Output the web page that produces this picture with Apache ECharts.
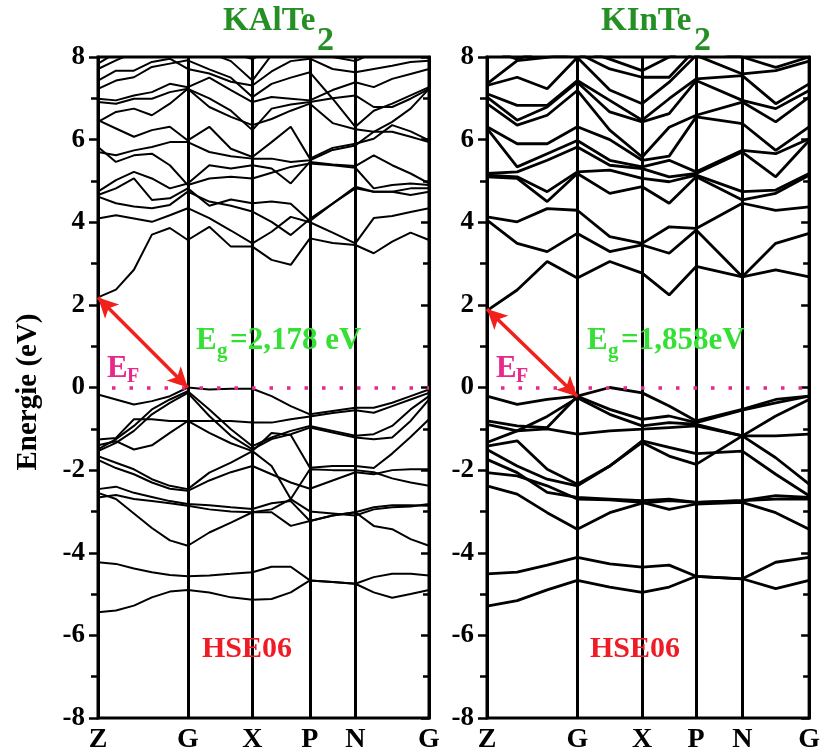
<!DOCTYPE html>
<html><head><meta charset="utf-8">
<script src="https://cdn.jsdelivr.net/npm/echarts@6/dist/echarts.min.js"></script>
<style>html,body{margin:0;padding:0;background:#fff}#c{width:823px;height:754px}</style>
</head><body><div id="c"></div>
<script>
// ---- k-path (distance along path, arbitrary units) ----
const kLabels = ['Z', 'G', 'X', 'P', 'N', 'G'];
const kLeft = [0, 17.8, 35.6, 53.4, 71.2, 89, 110.3, 131.7, 153, 172, 191, 210, 232.5, 255, 273.25, 291.5, 309.75, 328];
const kLeftSym = [0, 89, 153, 210, 255, 328];
const kRight = [0, 30.7, 61.3, 92, 125, 158, 185.5, 213, 260, 294, 328];
const kRightSym = [0, 92, 158, 213, 260, 328];

// ---- KAlTe2 bands (eV) ----
const alC1 = [2.18, 2.37, 2.85, 3.70, 3.86, 3.57, 3.89, 3.41, 3.41, 3.09, 2.97, 3.61, 3.50, 3.45, 3.25, 3.53, 3.75, 3.57];
const alC2 = [4.09, 4.17, 4.09, 4.01, 4.17, 4.34, 4.10, 3.80, 3.49, 3.77, 4.13, 4.00, 3.75, 3.49, 4.10, 4.15, 4.25, 4.34];
const alC3 = [4.62, 4.46, 4.38, 4.34, 4.42, 4.74, 4.50, 4.40, 4.26, 4.01, 3.69, 4.08, 4.45, 4.82, 4.74, 4.74, 4.66, 4.74];
const alC4 = [4.66, 4.82, 5.06, 4.54, 4.58, 4.82, 4.40, 4.55, 4.46, 4.50, 4.45, 4.03, 4.45, 4.86, 4.74, 4.74, 4.82, 4.82];
const alC5 = [4.74, 5.02, 5.22, 5.06, 4.82, 4.94, 5.38, 5.30, 5.38, 5.30, 4.94, 5.46, 5.40, 5.36, 5.62, 5.38, 5.18, 4.94];
const alC6 = [5.70, 5.62, 5.74, 5.82, 5.94, 5.94, 5.70, 5.60, 5.54, 5.54, 5.46, 5.50, 5.75, 5.86, 6.19, 6.43, 6.75, 7.23];
const alC7 = [5.82, 5.46, 5.62, 5.66, 5.38, 4.90, 5.06, 5.10, 5.06, 5.20, 5.34, 5.42, 5.38, 5.32, 4.82, 4.90, 4.94, 4.90];
const alC8 = [6.47, 6.27, 6.07, 6.23, 6.31, 5.98, 6.31, 5.78, 5.58, 5.94, 6.31, 5.54, 5.80, 5.90, 6.02, 6.35, 6.20, 5.98];
const alC9 = [6.43, 6.67, 6.75, 6.59, 6.87, 7.23, 6.79, 6.55, 6.35, 6.50, 6.70, 6.87, 6.40, 6.25, 6.19, 6.19, 6.07, 5.94];
const alC10 = [6.91, 6.87, 6.99, 6.99, 7.15, 7.23, 7.00, 6.70, 6.23, 6.75, 6.85, 6.91, 7.00, 7.07, 6.79, 6.79, 6.99, 7.23];
const alC11 = [6.99, 6.95, 7.07, 7.15, 7.35, 7.27, 7.50, 7.20, 6.91, 7.03, 6.99, 6.95, 7.20, 7.39, 7.27, 7.47, 7.59, 7.71];
const alC12 = [7.23, 7.43, 7.51, 7.76, 7.84, 7.92, 7.70, 7.50, 7.03, 7.35, 7.50, 7.63, 6.99, 6.31, 6.70, 6.87, 7.07, 7.27];
const alC13 = [7.43, 7.67, 7.67, 7.88, 7.96, 7.71, 7.60, 7.40, 7.31, 7.65, 7.90, 7.96, 7.71, 7.63, 7.71, 7.79, 7.88, 7.91];
const alC14 = [7.71, 7.92, 8.10, 8.30, 8.30, 8.20, 8.10, 7.90, 7.43, 8.05, 8.20, 8.30, 8.00, 7.90, 8.10, 8.20, 8.20, 8.20];
const alC15 = [7.84, 8.10, 8.30, 8.40, 8.40, 8.30, 8.20, 8.10, 7.95, 8.20, 8.30, 8.40, 8.30, 8.20, 8.30, 8.40, 8.30, 8.30];
const alV1 = [-0.17, -0.29, -0.41, -0.33, -0.21, 0.00, -0.05, -0.03, -0.03, -0.21, -0.45, -0.65, -0.57, -0.49, -0.49, -0.37, -0.21, -0.05];
const alV2 = [-1.50, -1.25, -0.93, -0.53, -0.29, -0.09, -0.53, -1.01, -1.42, -1.21, -1.05, -0.93, -1.05, -1.17, -1.13, -0.93, -0.53, -0.21];
const alV3 = [-1.54, -1.34, -1.05, -0.65, -0.37, -0.13, -0.69, -1.17, -1.50, -1.25, -1.13, -0.97, -1.09, -1.21, -1.25, -1.21, -0.81, -0.29];
const alV4 = [-1.26, -1.22, -0.77, -0.77, -0.81, -0.81, -0.81, -0.81, -0.85, -0.85, -0.77, -0.70, -0.62, -0.55, -0.61, -0.45, -0.29, -0.13];
const alV5 = [-1.40, -1.30, -1.50, -1.40, -1.10, -0.81, -1.10, -1.35, -1.54, -1.10, -1.15, -1.94, -1.90, -1.90, -1.95, -1.60, -1.20, -0.77];
const alV6 = [-1.66, -1.82, -1.98, -2.22, -2.38, -2.46, -2.06, -1.82, -1.54, -1.90, -2.70, -1.98, -2.00, -2.00, -2.05, -2.20, -2.30, -2.38];
const alV7 = [-1.75, -1.95, -2.10, -2.30, -2.45, -2.50, -2.25, -2.05, -1.90, -2.10, -2.30, -2.45, -2.25, -2.05, -2.10, -2.00, -1.98, -1.98];
const alV8 = [-2.46, -2.40, -2.55, -2.65, -2.75, -2.82, -2.85, -2.90, -2.94, -2.80, -2.75, -3.23, -3.10, -3.02, -2.90, -2.85, -2.85, -2.86];
const alV9 = [-2.66, -2.60, -2.70, -2.75, -2.80, -2.86, -2.95, -3.00, -3.02, -3.02, -3.35, -3.23, -3.10, -3.02, -3.35, -3.43, -3.67, -3.83];
const alV10 = [-2.55, -2.70, -3.05, -3.40, -3.70, -3.83, -3.51, -3.27, -3.02, -2.95, -2.70, -3.00, -3.05, -3.10, -2.95, -2.90, -2.88, -2.82];
const alD1 = [-4.23, -4.27, -4.38, -4.47, -4.54, -4.57, -4.55, -4.51, -4.47, -4.34, -4.34, -4.67, -4.71, -4.75, -4.59, -4.51, -4.51, -4.55];
const alD2 = [-5.44, -5.40, -5.28, -5.08, -4.94, -4.90, -4.96, -5.08, -5.14, -5.12, -4.96, -4.67, -4.71, -4.75, -4.96, -5.09, -5.00, -4.90];

// ---- KInTe2 bands (eV) ----
const inC1 = [1.86, 2.36, 3.05, 2.65, 3.05, 2.77, 2.24, 2.93, 2.68, 2.85, 2.68];
const inC2 = [4.05, 3.49, 3.29, 3.73, 3.29, 3.45, 3.25, 3.81, 2.68, 3.49, 3.73];
const inC3 = [4.13, 4.01, 4.33, 4.29, 3.65, 3.49, 3.89, 3.85, 4.46, 4.29, 4.37];
const inC4 = [5.10, 5.06, 4.50, 5.18, 4.70, 4.86, 4.46, 5.10, 4.54, 4.70, 5.14];
const inC5 = [5.14, 5.10, 4.74, 5.22, 5.26, 5.06, 4.98, 5.14, 4.74, 4.78, 5.18];
const inC6 = [5.18, 5.22, 5.50, 5.82, 5.38, 5.30, 5.10, 5.18, 5.70, 5.10, 5.98];
const inC7 = [6.27, 5.34, 5.66, 5.98, 5.50, 5.34, 5.50, 5.22, 5.74, 5.66, 6.02];
const inC8 = [6.31, 5.90, 5.90, 6.31, 6.00, 5.50, 5.60, 6.55, 6.39, 5.74, 6.31];
const inC9 = [6.87, 6.35, 6.59, 7.19, 6.23, 5.58, 6.30, 6.59, 6.91, 6.43, 7.03];
const inC10 = [7.03, 6.47, 6.79, 7.39, 6.67, 6.43, 6.63, 7.43, 6.95, 6.75, 7.19];
const inC11 = [7.11, 6.83, 6.83, 7.43, 6.95, 6.47, 6.99, 7.47, 7.55, 6.87, 7.35];
const inC12 = [7.31, 7.51, 7.23, 7.99, 7.20, 6.87, 7.39, 8.04, 7.59, 7.67, 7.90];
const inC13 = [7.35, 7.91, 7.99, 8.10, 7.71, 7.51, 7.51, 8.20, 8.00, 7.75, 8.00];
const inC14 = [8.20, 7.95, 8.20, 8.20, 7.95, 7.67, 8.00, 8.30, 8.20, 8.10, 8.20];
const inV1 = [-0.21, -0.41, -0.29, -0.21, 0.00, -0.13, -0.45, -0.81, -0.53, -0.29, -0.21];
const inV2 = [-0.81, -0.93, -0.97, -0.21, -0.53, -0.77, -0.69, -0.85, -0.55, -0.37, -0.21];
const inV3 = [-0.89, -1.05, -0.70, -0.25, -0.65, -0.93, -0.85, -0.89, -1.17, -0.69, -0.29];
const inV4 = [-1.33, -1.05, -1.00, -1.13, -1.05, -1.01, -0.97, -0.93, -1.17, -1.17, -1.13];
const inV5 = [-1.42, -1.29, -1.98, -2.34, -1.90, -1.33, -1.66, -1.86, -1.17, -1.70, -2.34];
const inV6 = [-1.50, -1.90, -2.22, -2.38, -1.90, -1.29, -1.45, -1.60, -1.54, -2.10, -2.62];
const inV7 = [-1.74, -2.06, -2.54, -2.66, -2.70, -2.74, -2.70, -2.78, -2.74, -2.62, -2.66];
const inV8 = [-2.06, -2.14, -2.38, -2.70, -2.72, -2.78, -2.95, -2.82, -2.78, -3.03, -3.43];
const inV9 = [-2.38, -2.58, -3.03, -3.43, -3.03, -2.80, -2.74, -2.78, -2.74, -2.70, -2.70];
const inD1 = [-4.51, -4.47, -4.30, -4.11, -4.27, -4.35, -4.30, -4.57, -4.63, -4.23, -4.11];
const inD2 = [-5.29, -5.16, -4.90, -4.67, -4.83, -4.96, -4.83, -4.57, -4.63, -4.87, -4.67];

// ---- gap arrows: [k, E] start (CBM at Z) and end (VBM at G) ----
const gapLeft = [[0, 2.178], [89, 0]];
const gapRight = [[0, 1.90], [92, -0.22]];
const fermiLevel = 0;

const bandsLeft = [alC1, alC2, alC3, alC4, alC5, alC6, alC7, alC8, alC9, alC10, alC11, alC12, alC13, alC14, alC15,
  alV1, alV2, alV3, alV4, alV5, alV6, alV7, alV8, alV9, alV10, alD1, alD2];
const bandsRight = [inC1, inC2, inC3, inC4, inC5, inC6, inC7, inC8, inC9, inC10, inC11, inC12, inC13, inC14,
  inV1, inV2, inV3, inV4, inV5, inV6, inV7, inV8, inV9, inD1, inD2];

const SERIF = '"Liberation Serif", "Times New Roman", serif';
const chart = echarts.init(document.getElementById('c'), null, {renderer: 'canvas'});

function xAxisFor(grid, sym) {
  return {
    type: 'value', gridIndex: grid, min: 0, max: 328,
    axisLine: {show: false}, axisTick: {show: false}, splitLine: {show: false},
    axisLabel: {
      customValues: sym, margin: 8,
      formatter: v => kLabels[sym.indexOf(v)],
      fontFamily: SERIF, fontWeight: 'bold', fontSize: 28, color: '#000'
    }
  };
}
function yAxisLeft(grid) {
  return {
    type: 'value', gridIndex: grid, min: -8, max: 8, interval: 2, position: 'left',
    axisLine: {show: true, lineStyle: {color: '#000', width: 3}},
    axisTick: {show: true, inside: false, length: 9, lineStyle: {color: '#000', width: 2.5}},
    minorTick: {show: true, splitNumber: 2, length: 7, lineStyle: {color: '#000', width: 2.5}},
    splitLine: {show: false},
    axisLabel: {margin: 13, fontFamily: SERIF, fontWeight: 'bold', fontSize: 27, color: '#000'}
  };
}
function yAxisRight(grid) {
  return {
    type: 'value', gridIndex: grid, min: -8, max: 8, interval: 2, position: 'right',
    axisLine: {show: true, lineStyle: {color: '#000', width: 3}},
    axisTick: {show: true, inside: true, length: 8, lineStyle: {color: '#000', width: 2.5}},
    minorTick: {show: true, splitNumber: 2, length: 6, lineStyle: {color: '#000', width: 2.5}},
    splitLine: {show: false}, axisLabel: {show: false}
  };
}

const series = [];
function addBands(bands, k, xi, yi, width) {
  bands.forEach((b, n) => series.push({
    type: 'line', xAxisIndex: xi, yAxisIndex: yi, name: 'band' + xi + '_' + n,
    data: b.map((e, i) => [k[i], e]), showSymbol: false, symbol: 'none',
    lineStyle: {color: '#000', width: width}, silent: true, animation: false, z: 3
  }));
}
addBands(bandsLeft, kLeft, 0, 0, 2);
addBands(bandsRight, kRight, 1, 2, 2.8);

function addMarks(xi, yi, sym, gap) {
  series.push({
    type: 'line', xAxisIndex: xi, yAxisIndex: yi, data: [], silent: true, animation: false, z: 4,
    markLine: {
      silent: true, animation: false, symbol: 'none', label: {show: false},
      lineStyle: {color: '#000', width: 3, type: 'solid'},
      data: sym.slice(1, -1).map(v => ({xAxis: v}))
    }
  });
  series.push({
    type: 'line', xAxisIndex: xi, yAxisIndex: yi, data: [], silent: true, animation: false, z: 5,
    markLine: {
      silent: true, animation: false, symbol: 'none', label: {show: false},
      lineStyle: {color: '#e8298c', width: 3.5, type: [3.5, 14], dashOffset: -14, cap: 'butt'},
      data: [{yAxis: fermiLevel}]
    }
  });
  series.push({
    type: 'line', xAxisIndex: xi, yAxisIndex: yi, data: [], silent: true, animation: false, z: 6, clip: false,
    markLine: {
      silent: true, animation: false, symbol: ['arrow', 'arrow'], symbolSize: [15, 20], label: {show: false},
      lineStyle: {color: '#f0201c', width: 3.5, type: 'solid'},
      data: [[{coord: gap[0]}, {coord: gap[1]}]]
    }
  });
}
addMarks(0, 0, kLeftSym, gapLeft);
addMarks(1, 2, kRightSym, gapRight);

// text placed with its top edge at y (baseline ≈ y + 0.8*size)
function txt(x, baseline, s, size, color) {
  return {
    type: 'text', x: x, y: baseline - 0.8 * size, silent: true, z: 10,
    style: {text: s, font: 'bold ' + size + 'px ' + SERIF, fill: color, align: 'left', verticalAlign: 'top'}
  };
}
const GREEN_T = '#248f24', GREEN_E = '#33e033', MAG = '#e8298c', RED = '#ee1c24';
const graphics = [
  txt(223, 31, 'KAlTe', 33, GREEN_T), txt(317, 51, '2', 34, GREEN_T),
  txt(601, 31, 'KInTe', 33, GREEN_T), txt(694, 51, '2', 34, GREEN_T),
  txt(107, 378, 'E', 31, MAG), txt(127, 383, 'F', 20, MAG),
  txt(496, 378, 'E', 31, MAG), txt(516, 383, 'F', 20, MAG),
  txt(196, 350, 'E', 31, GREEN_E), txt(217, 358, 'g', 21, GREEN_E), txt(230, 350, '=2,178 eV', 31, GREEN_E),
  txt(587, 350, 'E', 31, GREEN_E), txt(608, 358, 'g', 21, GREEN_E), txt(621, 350, '=1,858eV', 31, GREEN_E),
  txt(202, 658, 'HSE06', 30, RED), txt(590, 658, 'HSE06', 30, RED),
  {type: 'text', x: 29, y: 392, rotation: Math.PI / 2, silent: true,
   style: {text: 'Energie (eV)', font: 'bold 29px ' + SERIF, fill: '#000', align: 'center', verticalAlign: 'middle'}}
];

chart.setOption({
  animation: false,
  backgroundColor: '#fff',
  grid: [
    {left: 98, top: 57, width: 331, height: 663, show: true, borderColor: '#000', borderWidth: 3, backgroundColor: 'transparent'},
    {left: 487, top: 57, width: 329, height: 663, show: true, borderColor: '#000', borderWidth: 3, backgroundColor: 'transparent'}
  ],
  xAxis: [xAxisFor(0, kLeftSym), xAxisFor(1, kRightSym)],
  yAxis: [yAxisLeft(0), yAxisRight(0), yAxisLeft(1), yAxisRight(1)],
  series: series,
  graphic: graphics
});
</script></body></html>
